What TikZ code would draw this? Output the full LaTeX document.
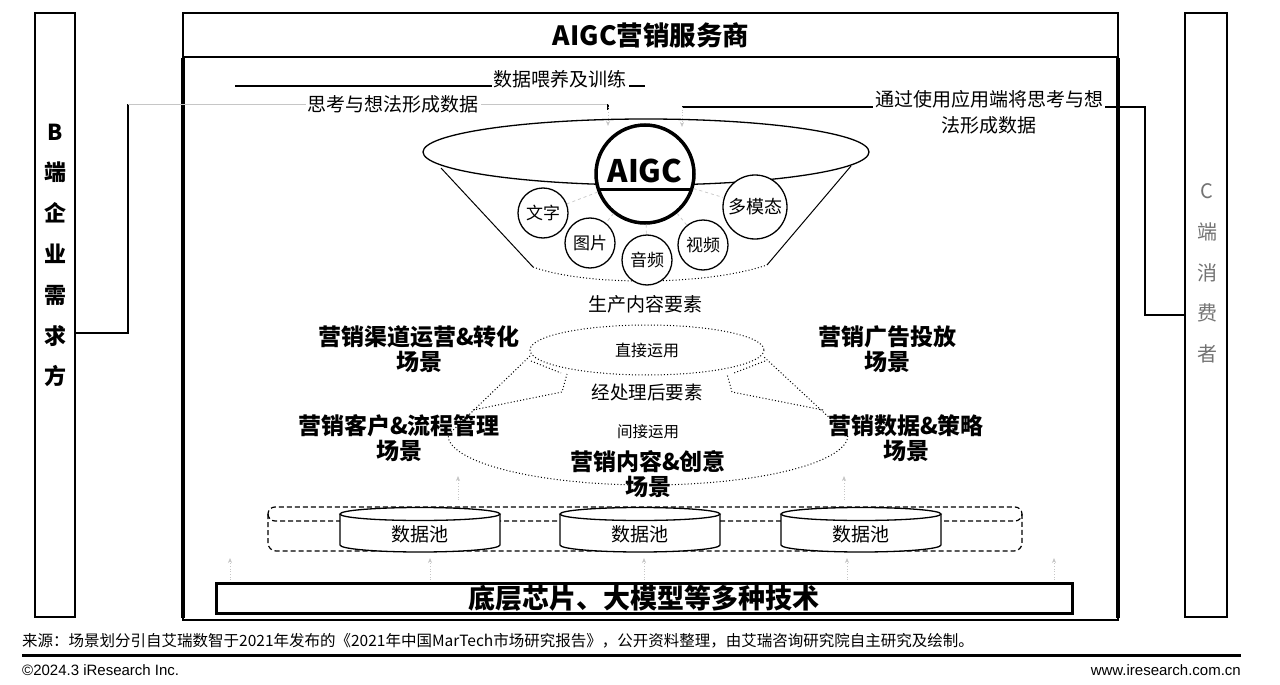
\documentclass[tikz,border=0pt]{standalone}
\usepackage{fontspec}
\setmainfont{Noto Sans CJK SC}
\newfontfamily\latinfont{Liberation Sans}
\usetikzlibrary{arrows.meta}
\tikzset{
  panelbox/.style={draw, line width=2pt, minimum width=40pt, minimum height=604pt, inner sep=0pt},
  lbl/.style={font=\fontsize{19}{26}\selectfont, inner sep=2pt},
  wlbl/.style={lbl, fill=white},
  scene/.style={font=\fontsize{23}{25}\selectfont\bfseries, align=center, inner sep=0pt},
  midlbl/.style={font=\fontsize{#1}{#1}\selectfont, inner sep=1pt},
  media/.style={circle, draw, line width=1.3pt, fill=white, inner sep=0pt, minimum size=50pt, font=\fontsize{17}{17}\selectfont},
  conn/.style={line width=1.2pt},
  faint/.style={draw=gray!45, line width=0.7pt},
  dots/.style={line width=1pt, dash pattern=on 1pt off 2.2pt},
  pooldash/.style={line width=1.2pt, dash pattern=on 5pt off 3pt},
  cyl/.style={line width=1.3pt},
  tip/.style={-{Stealth[length=5pt,width=4pt]}}
}
\begin{document}
\begin{tikzpicture}[x=1pt,y=-1pt]
\useasboundingbox (0,0) rectangle (1280,685);
\fill[white] (0,0) rectangle (1280,685);

% ---------- side panels ----------
\node[panelbox] (bpanel) at (55,315) {};
\node[font=\fontsize{22}{40.8}\selectfont\bfseries, align=center, inner sep=0pt] (btext) at (55,255.5)
  {B\\端\\企\\业\\需\\求\\方};
\node[panelbox, minimum width=42pt] (cpanel) at (1206,315) {};
\node[font=\fontsize{20}{40.7}\selectfont, text=black!55, align=center, inner sep=0pt] (ctext) at (1207,273.5)
  {C\\端\\消\\费\\者};

% ---------- AIGC service box ----------
\draw[line width=2.5pt] (183,13) rectangle (1118,57);
\node[font=\fontsize{26.5}{26.5}\selectfont\bfseries, inner sep=0pt] (title) at (651,35) {AIGC营销服务商};
\draw[line width=2.5pt] (183,57) -- (183,620) -- (1118,620) -- (1118,57);
\draw[line width=4pt] (183,58) -- (183,618);
\draw[line width=4pt] (1118,58) -- (1118,618);

% ---------- connectors from B / C ----------
\coordinate (lA) at (75,333);
\coordinate (lB) at (128,333);
\coordinate (lC) at (128,104);
\coordinate (lD) at (608,104);
\coordinate (lE) at (608,126);
\draw[conn] (lA) -- (lB) -- (lC);
\draw[faint] (lC) -- (lD);
\draw[conn] (lD) -- ++(0,6);
\draw[faint, tip, dotted] (lD) -- (lE);
\node[wlbl] (think1) at (393,104) {思考与想法形成数据};

\coordinate (rA) at (1185,315);
\coordinate (rB) at (1145,315);
\coordinate (rC) at (1145,107);
\coordinate (rD) at (682,107);
\coordinate (rE) at (682,127);
\draw[conn] (rA) -- (rB) -- (rC) -- (rD);
\draw[faint, tip, dotted] (rD) -- (rE);
\node[wlbl, align=center] (think2) at (989,112) {通过使用应用端将思考与想\\法形成数据};

\coordinate (fA) at (235,86);
\coordinate (fB) at (645,86);
\draw[conn] (fA) -- (fB);
\node[wlbl] (feed) at (560,79) {数据喂养及训练};

% ---------- funnel ----------
\draw[line width=1.3pt] (646,152) ellipse [x radius=223, y radius=33];
\draw[line width=1pt] (441,168) -- (533,267);
\draw[line width=1pt] (851,166) -- (767,265);
\draw[dots] (533,267) .. controls (585,286) and (705,286) .. (767,265);

\node[circle, draw, line width=3.5pt, fill=white, minimum size=98pt, inner sep=0pt] (aigc) at (645,174) {};
\node[font=\fontsize{31}{31}\selectfont\bfseries, inner sep=0pt] (aigct) at (645,171) {AIGC};
\draw[line width=3pt] (597,189) -- (693,189);

\node[media] (m1) at (543,213) {文字};
\node[media] (m2) at (590,243) {图片};
\node[media] (m3) at (647,260) {音频};
\node[media] (m4) at (703,245) {视频};
\node[media, minimum size=64pt, font=\fontsize{18}{18}\selectfont] (m5) at (755,207) {多模态};
\foreach \m in {m1,m2,m3,m4,m5} \draw[faint, dashed] (aigc) -- (\m);

\node[lbl] (prod) at (645,304) {生产内容要素};

% ---------- scenes ----------
\draw[dots] (647,350) ellipse [x radius=117, y radius=25];
\draw[dots] (530,356) -- (448,435) .. controls (448,462.6) and (537.5,485) .. (648,485)
   .. controls (758.5,485) and (848,462.6) .. (848,435) -- (764,357);
\draw[dots] (473,410) -- (562,392) -- (567,374);
\draw[dots] (823,410) -- (732,392) -- (727,374);
\draw[dots] (531,361) -- (561,373);
\draw[dots] (765,361) -- (734,373);

\node[midlbl=16] (direct) at (647,350) {直接运用};
\node[midlbl=18.5] (proc) at (647,392) {经处理后要素};
\node[midlbl=15.5] (indirect) at (648,432) {间接运用};

\node[scene] (s1) at (419,349.5) {营销渠道运营\&转化\\场景};
\node[scene] (s2) at (887,349.5) {营销广告投放\\场景};
\node[scene] (s3) at (399,438.5) {营销客户\&流程管理\\场景};
\node[scene] (s4) at (906,438.5) {营销数据\&策略\\场景};
\node[scene] (s5) at (648,474.5) {营销内容\&创意\\场景};

% ---------- data pools ----------
\draw[pooldash, rounded corners=7pt] (268,507) rectangle (1022,521);
\draw[pooldash, rounded corners=8pt] (268,514) |- (645,551) -| (1022,514);
\foreach \cx/\nm in {420/p1, 640/p2, 861/p3}{
  \fill[white] (\cx-80,514) rectangle (\cx+80,545);
  \fill[white] (\cx,545) ellipse [x radius=80, y radius=7];
  \fill[white] (\cx,514) ellipse [x radius=80, y radius=6.5];
  \draw[cyl] (\cx,514) ellipse [x radius=80, y radius=6.5];
  \draw[cyl] (\cx-80,514) -- (\cx-80,545) .. controls (\cx-80,548.9) and (\cx-44.2,552) .. (\cx,552)
     .. controls (\cx+44.2,552) and (\cx+80,548.9) .. (\cx+80,545) -- (\cx+80,514);
  \node[midlbl=19] (\nm) at (\cx,534) {数据池};
}

% faint arrows
\foreach \ax in {458,844}{
  \draw[faint, tip, dotted] (\ax,500) -- (\ax,476);
}
\foreach \ax in {230,430,644,847,1054}{
  \draw[faint, tip, dotted] (\ax,580) -- (\ax,558);
}

% ---------- base technology ----------
\draw[line width=3pt] (216,583) rectangle (1072,613);
\node[font=\fontsize{27}{27}\selectfont\bfseries, inner sep=0pt] (tech) at (644,598) {底层芯片、大模型等多种技术};

% ---------- footer ----------
\node[anchor=west, font=\fontsize{15.5}{16}\selectfont, inner sep=0pt] (src) at (22,641)
  {来源：场景划分引自艾瑞数智于2021年发布的《2021年中国MarTech市场研究报告》，公开资料整理，由艾瑞咨询研究院自主研究及绘制。};
\coordinate (sepA) at (22,655);
\coordinate (sepB) at (1241,655);
\draw[line width=3pt] (sepA) -- (sepB);
\node[anchor=west, font=\latinfont\fontsize{15}{15}\selectfont, inner sep=0pt] (copy) at (22,670) {©2024.3 iResearch Inc.};
\node[anchor=east, font=\latinfont\fontsize{15}{15}\selectfont, inner sep=0pt] (web) at (1241,670) {www.iresearch.com.cn};
\end{tikzpicture}
\end{document}
